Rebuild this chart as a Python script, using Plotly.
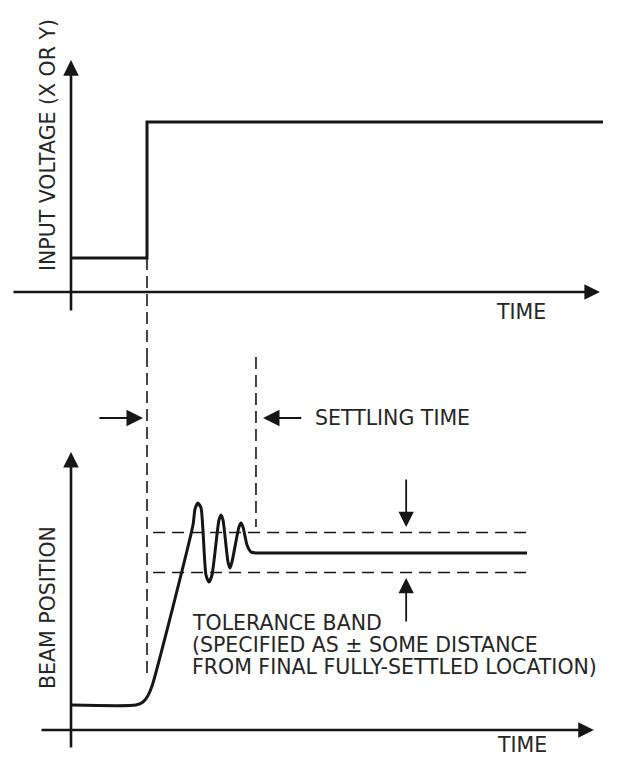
import plotly.graph_objects as go

# ---------------- data (diagram units) ----------------
# top panel: input voltage step
step_time = [0.0, 1.0, 1.0, 7.0]
step_voltage = [1.0, 1.0, 5.0, 5.0]

# bottom panel: beam position response
beam_time = [0.0, 0.855, 0.947, 1.01, 1.066, 1.605, 1.632, 1.671, 1.711,
             1.776, 1.816, 1.855, 1.947, 1.974, 2.0, 2.066, 2.092, 2.118,
             2.21, 2.237, 2.263, 2.316, 2.368, 2.434, 2.6, 6.0]
beam_pos = [1.0, 1.0, 1.12, 1.36, 1.76, 8.2, 8.84, 9.08, 8.88,
            6.2, 5.92, 6.2, 8.4, 8.6, 8.4, 6.72, 6.48, 6.72,
            8.12, 8.28, 8.12, 7.4, 7.12, 7.08, 7.08, 7.08]

band_time = [1.08, 6.0]
band_upper = [7.9, 7.9]
band_lower = [6.3, 6.3]

step_instant = 1.0
settled_instant = 2.434

ylabel_top = "INPUT VOLTAGE (X OR Y)"
ylabel_bottom = "BEAM POSITION"
xlabel = "TIME"
settling_label = "SETTLING TIME"
tolerance_lines = ["TOLERANCE BAND",
                   "(SPECIFIED AS ± SOME DISTANCE",
                   "FROM FINAL FULLY-SETTLED LOCATION)"]

# ---------------- figure ----------------
INK = "#161616"
FONT = dict(family="DejaVu Sans, Liberation Sans, sans-serif", size=20.5, color="#262626")

fig = go.Figure()

# input voltage step
fig.add_trace(go.Scatter(x=step_time, y=step_voltage, mode="lines",
                         line=dict(color=INK, width=3), xaxis="x", yaxis="y",
                         hoverinfo="skip"))
# dashed line marking the step instant (top part)
fig.add_trace(go.Scatter(x=[step_instant, step_instant], y=[step_voltage[0], -1.853],
                         mode="lines", line=dict(color=INK, width=1.6, dash="12px,6px"),
                         xaxis="x", yaxis="y", hoverinfo="skip"))
# dashed line marking the step instant (bottom part)
fig.add_trace(go.Scatter(x=[step_instant, step_instant], y=[15.0, 2.12],
                         mode="lines", line=dict(color=INK, width=1.6, dash="12px,6px"),
                         xaxis="x", yaxis="y2", hoverinfo="skip"))
# settling-time dashed marker
fig.add_trace(go.Scatter(x=[settled_instant, settled_instant], y=[14.92, 8.12],
                         mode="lines", line=dict(color=INK, width=1.6, dash="12px,6px"),
                         xaxis="x", yaxis="y2", hoverinfo="skip"))
# tolerance band
for yb in (band_upper, band_lower):
    fig.add_trace(go.Scatter(x=band_time, y=yb, mode="lines",
                             line=dict(color=INK, width=1.6, dash="12px,7px"),
                             xaxis="x", yaxis="y2", hoverinfo="skip"))
# beam position response
fig.add_trace(go.Scatter(x=beam_time, y=beam_pos, mode="lines",
                         line=dict(color=INK, width=3, shape="spline", smoothing=0.6),
                         xaxis="x", yaxis="y2", hoverinfo="skip"))

# ---------------- arrows ----------------
def arrow(x0, y0, x1, y1, yref, width=2.6, size=1.2):
    fig.add_annotation(x=x1, y=y1, ax=x0, ay=y0, xref="x", yref=yref,
                       axref="x", ayref=yref, text="", showarrow=True,
                       arrowhead=2, arrowwidth=width, arrowsize=size,
                       arrowcolor=INK, standoff=0, startstandoff=0)

# axes (top)
arrow(0, -0.588, 0, 6.82, "y")
arrow(-0.776, 0, 6.96, 0, "y")
# axes (bottom)
arrow(0, -0.76, 0, 11.12, "y2")
arrow(-0.408, 0, 6.88, 0, "y2")
# settling time arrows
arrow(0.355, 12.48, 0.947, 12.48, "y2", width=2.2, size=1.5)
arrow(3.05, 12.48, 2.526, 12.48, "y2", width=2.2, size=1.5)
# tolerance band arrows
arrow(4.41, 10.08, 4.41, 8.12, "y2", width=1.8, size=1.7)
arrow(4.41, 4.28, 4.41, 6.08, "y2", width=1.8, size=1.7)

# ---------------- texts ----------------
def text(x, y, s, yref, xanchor="center", angle=0):
    fig.add_annotation(x=x, y=y, xref="x", yref=yref, text=s, showarrow=False,
                       xanchor=xanchor, yanchor="middle", textangle=angle, font=FONT)

text(-0.303, 4.32, ylabel_top, "y", angle=-90)
text(5.92, -0.588, xlabel, "y")
text(-0.303, 4.92, ylabel_bottom, "y2", angle=-90)
text(5.93, -0.6, xlabel, "y2")
text(3.184, 12.48, settling_label, "y2", xanchor="left")
for s, yy in zip(tolerance_lines, [4.28, 3.40, 2.52]):
    text(1.566, yy, s, "y2", xanchor="left")

hidden = dict(visible=False, fixedrange=True)
fig.update_layout(
    width=642, height=757,
    margin=dict(l=0, r=0, t=0, b=0),
    paper_bgcolor="white", plot_bgcolor="white",
    showlegend=False,
    xaxis=dict(range=[-0.9342, 7.5132], domain=[0, 1], anchor="y", **hidden),
    yaxis=dict(range=[-1.853, 8.588], domain=[0.53104, 1], anchor="x", **hidden),
    yaxis2=dict(range=[-1.08, 15.0], domain=[0, 0.53104], anchor="x", **hidden),
)

fig.write_html("out.html", config={"displayModeBar": False},
               post_script="document.body.style.margin='0';")
